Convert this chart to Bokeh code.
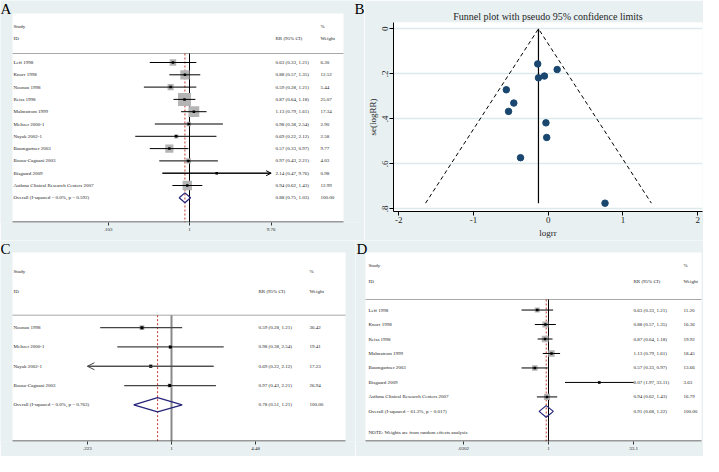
import numpy as np
from bokeh.plotting import figure
from bokeh.models import Range1d, FixedTicker, Arrow, OpenHead
from bokeh.layouts import row, column
from bokeh.embed import file_html
from bokeh.resources import INLINE
from bokeh.core.properties import value

SERIF = "Liberation Serif"
BG = "#e8f0f2"
INK = "#1e1e1e"

# ---------------- Panel A data ----------------
a_study = ["Leff 1998", "Knorr 1998", "Noonan 1998", "Reiss 1998", "Malmstrom 1999",
           "Meltzer 2000-1", "Nayak 2002-1", "Baumgartner 2003", "Bousa-Cagnani 2003",
           "Bisgaard 2009", "Asthma Clinical Research Centers 2007"]
a_rr = [0.63, 0.88, 0.59, 0.87, 1.13, 0.98, 0.69, 0.57, 0.97, 2.14, 0.94]
a_lo = [0.33, 0.57, 0.28, 0.64, 0.79, 0.38, 0.22, 0.33, 0.43, 0.47, 0.62]
a_hi = [1.21, 1.35, 1.21, 1.18, 1.61, 2.54, 2.12, 0.97, 2.21, 9.76, 1.43]
a_weight = [6.30, 12.52, 5.44, 25.07, 17.34, 2.90, 2.58, 9.77, 4.03, 0.98, 12.99]
a_overall_label = "Overall (I-squared = 0.0%, p = 0.592)"
a_overall = [0.88, 0.75, 1.03, 100.00]
a_ticks = [0.103, 1, 9.76]
a_tick_labels = [".103", "1", "9.76"]
a_arrow_rows = ["Bisgaard 2009"]

# ---------------- Panel B data (funnel) ----------------
b_title = "Funnel plot with pseudo 95% confidence limits"
b_logrr = [-0.14, 0.12, -0.05, -0.13, -0.56, -0.46, -0.53, -0.03, -0.02, -0.37, 0.76]
b_se = [0.156, 0.181, 0.210, 0.218, 0.271, 0.330, 0.367, 0.418, 0.483, 0.573, 0.775]
b_limit_x = [-1.64, -0.13, 1.38]
b_limit_y = [0.775, 0.0, 0.775]
b_pooled = -0.13
b_xticks = [-2, -1, 0, 1, 2]
b_xtick_labels = ["-2", "-1", "0", "1", "2"]
b_yticks = [0, 0.2, 0.4, 0.6, 0.8]
b_ytick_labels = ["0", ".2", ".4", ".6", ".8"]

# ---------------- Panel C data ----------------
c_study = ["Noonan 1998", "Meltzer 2000-1", "Nayak 2002-1", "Bousa-Cagnani 2003"]
c_rr = [0.59, 0.98, 0.69, 0.97]
c_lo = [0.28, 0.38, 0.22, 0.43]
c_hi = [1.21, 2.54, 2.12, 2.21]
c_weight = [36.42, 19.41, 17.23, 26.94]
c_overall_label = "Overall (I-squared = 0.0%, p = 0.763)"
c_overall = [0.78, 0.51, 1.21, 100.00]
c_ticks = [0.223, 1, 4.48]
c_tick_labels = [".223", "1", "4.48"]
c_arrow_rows = ["Nayak 2002-1"]

# ---------------- Panel D data ----------------
d_study = ["Leff 1998", "Knorr 1998", "Reiss 1998", "Malmstrom 1999", "Baumgartner 2003",
           "Bisgaard 2009", "Asthma Clinical Research Centers 2007"]
d_rr = [0.63, 0.88, 0.87, 1.13, 0.57, 8.07, 0.94]
d_lo = [0.33, 0.57, 0.64, 0.79, 0.33, 1.97, 0.62]
d_hi = [1.21, 1.35, 1.18, 1.61, 0.97, 33.11, 1.43]
d_weight = [11.20, 16.36, 19.92, 18.45, 13.66, 3.63, 16.79]
d_overall_label = "Overall (I-squared = 61.3%, p = 0.017)"
d_overall = [0.91, 0.68, 1.22, 100.00]
d_ticks = [0.0302, 1, 33.1]
d_tick_labels = [".0302", "1", "33.1"]
d_arrow_rows = []
d_note = "NOTE: Weights are from random effects analysis"


def forest(study, rr, lo, hi, wt, ov_label, ov, ticks, tick_labels, arrow_rows, L, note=None):
    """Layout values in L are pixel positions measured on the reference picture."""
    fx0, fy0 = L["fx"], L["fy"]
    frame_bottom = fy0 + L["h"] - L["bb"]
    ya, ys_ = L["ya"], L["ys"]

    def T(py):  # vertical fit of the reference layout into the available height
        return ya + (py - ya) * ys_

    rp = L["rp"] * ys_
    row0 = T(L["row0"])

    def xd(px):
        return 10 ** ((px - L["x1"]) / L["ppd"])

    def yd(py):  # py already in output pixels
        return (row0 - py) / rp

    p = figure(width=L["w"], height=L["h"], x_axis_type="log",
               x_range=Range1d(xd(fx0), xd(fx0 + L["w"])),
               y_range=Range1d(yd(frame_bottom), yd(fy0)),
               y_axis_location=None, toolbar_location=None, output_backend="svg",
               min_border_left=0, min_border_right=0, min_border_top=0,
               min_border_bottom=L["bb"], frame_align=False)
    p.background_fill_color = BG
    p.border_fill_color = BG
    p.outline_line_color = None
    p.xgrid.visible = False
    p.ygrid.visible = False

    fs = L["fs"]

    def txt(xs, ys, texts):
        p.text(x=xs, y=ys, text=texts, text_font=value(SERIF), text_font_size=fs,
               text_color=INK, text_baseline="middle", text_align="left")

    y_bot = yd(frame_bottom)
    # white plot region
    p.quad(left=[xd(L["wl"])], right=[xd(L["wr"])], top=[yd(T(L["wt"]))], bottom=[y_bot],
           fill_color="white", line_color=None)

    n = len(study)
    ys = [-i for i in range(n)]
    yo = -n
    hs, hid, sep = (yd(T(v)) for v in L["hdr"])

    txt([xd(L["c0"])] * 2, [hs, hid], ["Study", "ID"])
    txt([xd(L["c2"])] * 2, [hs, hid], ["%", "Weight"])
    txt([xd(L["c1"])], [hid], ["RR (95% CI)"])
    p.segment(x0=[xd(L["wl"])], x1=[xd(L["wr"])], y0=[sep], y1=[sep],
              line_color="#a8a8a8", line_width=1)

    # reference lines
    p.segment(x0=[1], x1=[1], y0=[sep], y1=[y_bot],
              line_color=L["null_color"], line_width=L["null_width"])
    p.segment(x0=[ov[0]], x1=[ov[0]], y0=[sep], y1=[y_bot],
              line_color="#c0392b", line_width=1, line_dash="2 2")

    # weight boxes
    p.scatter(x=rr, y=ys, marker="square", size=[L["k"] * np.sqrt(w) for w in wt],
              fill_color="#b4b4b4", line_color=None)

    # confidence intervals
    x0, x1 = [], []
    for s, l, h, y in zip(study, lo, hi, ys):
        if s in arrow_rows and l < ticks[0]:
            x0.append(ticks[0]); x1.append(h)
            p.add_layout(Arrow(end=OpenHead(size=L["ah"], line_width=1, line_color=L["ci_color"]),
                               x_start=h, y_start=y, x_end=ticks[0], y_end=y,
                               line_color=L["ci_color"], line_width=L["ci_width"]))
        elif s in arrow_rows:
            x0.append(l); x1.append(ticks[-1])
            p.add_layout(Arrow(end=OpenHead(size=L["ah"], line_width=1, line_color=L["ci_color"]),
                               x_start=l, y_start=y, x_end=ticks[-1], y_end=y,
                               line_color=L["ci_color"], line_width=L["ci_width"]))
        else:
            x0.append(l); x1.append(h)
    p.segment(x0=x0, x1=x1, y0=ys, y1=ys, line_color=L["ci_color"], line_width=L["ci_width"])
    p.scatter(x=rr, y=ys, marker="square", size=L["pt"], fill_color="black", line_color=None)

    # overall diamond
    dh = L["dh"]
    p.patch(x=[ov[1], ov[0], ov[2], ov[0]], y=[yo, yo + dh, yo, yo - dh],
            fill_color=None, line_color="#25257a", line_width=1.2)

    # text columns
    labels = study + [ov_label]
    yl = ys + [yo]
    ci = [f"{r:.2f} ({l:.2f}, {h:.2f})" for r, l, h in zip(rr, lo, hi)]
    ci.append(f"{ov[0]:.2f} ({ov[1]:.2f}, {ov[2]:.2f})")
    wts = [f"{w:.2f}" for w in wt] + [f"{ov[3]:.2f}"]
    txt([xd(L["c0"])] * len(labels), yl, labels)
    txt([xd(L["c1"])] * len(labels), yl, ci)
    txt([xd(L["c2"])] * len(labels), yl, wts)
    if note:
        txt([xd(L["c0"])], [yd(T(L["note_y"]))], [note])

    # axis line along the white region only
    p.segment(x0=[xd(L["wl"])], x1=[xd(L["wr"])], y0=[y_bot + 0.5 / rp],
              y1=[y_bot + 0.5 / rp], line_color="#333333", line_width=1)

    # panel letters
    for t, lx, ly in L["letters"]:
        p.text(x=[xd(lx)], y=[yd(ly)], text=[t], text_font=value(SERIF),
               text_font_size="15px", text_color="black", text_baseline="top",
               text_align="left")

    ax = p.xaxis[0]
    ax.ticker = FixedTicker(ticks=ticks)
    ax.major_label_overrides = {t: lab for t, lab in zip(ticks, tick_labels)}
    ax.minor_tick_line_color = None
    ax.axis_line_color = None
    ax.major_tick_out = 3
    ax.major_tick_in = 0
    ax.major_label_standoff = 2
    ax.major_label_text_font = SERIF
    ax.major_label_text_font_size = fs
    ax.major_label_text_color = INK
    ax.major_tick_line_color = "#333333"
    return p


LA = dict(fx=0, fy=0, w=364, h=240, bb=18, ya=0, ys=1.0, wl=12, wr=343, wt=13,
          x1=189, ppd=82.5, rp=12.3, row0=62, hdr=(26, 38, 53),
          c0=13, c1=275, c2=320, k=2.6, dh=0.4, fs="5px",
          null_color="black", null_width=1, ci_color="black", ci_width=1, pt=2.5, ah=5,
          letters=[("A", 0, 0), ("B", 354, 0)])
LC = dict(fx=0, fy=240, w=355, h=216, bb=15, ya=252, ys=0.964, wl=12, wr=345, wt=252,
          x1=171, ppd=129, rp=20, row0=330, hdr=(272, 292, 317),
          c0=13, c1=258, c2=309, k=0.8, dh=0.37, fs="5px",
          null_color="#8a8a8a", null_width=2, ci_color="#444444", ci_width=1.2, pt=3, ah=7,
          letters=[("C", 0, 240)])
LD = dict(fx=355, fy=240, w=348, h=216, bb=15, ya=252, ys=0.959, wl=365, wr=701, wt=252,
          x1=548, ppd=56, rp=15.1, row0=312, hdr=(266, 282, 301),
          c0=368, c1=633, c2=683, k=1.5, dh=0.4, fs="5px",
          null_color="black", null_width=1, ci_color="black", ci_width=1, pt=2.5, ah=5,
          letters=[("D", 356, 240)], note_y=440)

pa = forest(a_study, a_rr, a_lo, a_hi, a_weight, a_overall_label, a_overall,
            a_ticks, a_tick_labels, a_arrow_rows, LA)
pc = forest(c_study, c_rr, c_lo, c_hi, c_weight, c_overall_label, c_overall,
            c_ticks, c_tick_labels, c_arrow_rows, LC)
pd = forest(d_study, d_rr, d_lo, d_hi, d_weight, d_overall_label, d_overall,
            d_ticks, d_tick_labels, d_arrow_rows, LD, note=d_note)

# ---------------- Panel B: funnel plot ----------------
# figure spans x 364..703, y 0..240; white frame spans x 393..702, y 22..211
BW, BH, BBL, BBR, BBT, BBB = 339, 240, 29, 1, 22, 29
pb = figure(width=BW, height=BH, x_range=Range1d(-2.069, 2.064), y_range=Range1d(0.812, -0.028),
            toolbar_location=None, output_backend="svg", frame_align=False,
            min_border_left=BBL, min_border_right=BBR, min_border_top=BBT, min_border_bottom=BBB)
pb.background_fill_color = "white"
pb.border_fill_color = BG
pb.outline_line_color = None
pb.xgrid.visible = False
pb.title.text = b_title
pb.title.align = "center"
pb.title.text_font = SERIF
pb.title.text_font_size = "10px"
pb.title.text_font_style = "normal"
pb.title.text_color = INK
pb.title.standoff = 1

yt = FixedTicker(ticks=b_yticks)
pb.yaxis.ticker = yt
pb.ygrid.ticker = yt
pb.ygrid.grid_line_color = "#dde9eb"
pb.ygrid.grid_line_width = 1.5
pb.xaxis.ticker = FixedTicker(ticks=b_xticks)
pb.xaxis.major_label_overrides = dict(zip(b_xticks, b_xtick_labels))
pb.yaxis.major_label_overrides = dict(zip(b_yticks, b_ytick_labels))
pb.yaxis.major_label_orientation = "vertical"
pb.xaxis.axis_label = "logrr"
pb.yaxis.axis_label = "se(logRR)"
for ax in (pb.xaxis[0], pb.yaxis[0]):
    ax.minor_tick_line_color = None
    ax.major_tick_out = 4
    ax.major_tick_in = 0
    ax.major_label_standoff = 1
    ax.major_label_text_font = SERIF
    ax.major_label_text_font_size = "9px"
    ax.major_label_text_color = INK
    ax.axis_label_text_font = SERIF
    ax.axis_label_text_font_size = "9px"
    ax.axis_label_text_font_style = "normal"
    ax.axis_label_text_color = INK
    ax.axis_line_color = "black"
    ax.major_tick_line_color = "black"
pb.xaxis.axis_label_standoff = 2
pb.yaxis.axis_label_standoff = 2

pb.line(b_limit_x, b_limit_y, line_color="black", line_width=1, line_dash="4 3")
pb.segment(x0=[b_pooled], x1=[b_pooled], y0=[0], y1=[b_limit_y[0]], line_color="black", line_width=1.2)
pb.scatter(b_logrr, b_se, size=6.5, fill_color="#1a476f", line_color="#1a476f")

layout = column(row(pa, pb), row(pc, pd))
open("out.html", "w").write(file_html(layout, INLINE))
